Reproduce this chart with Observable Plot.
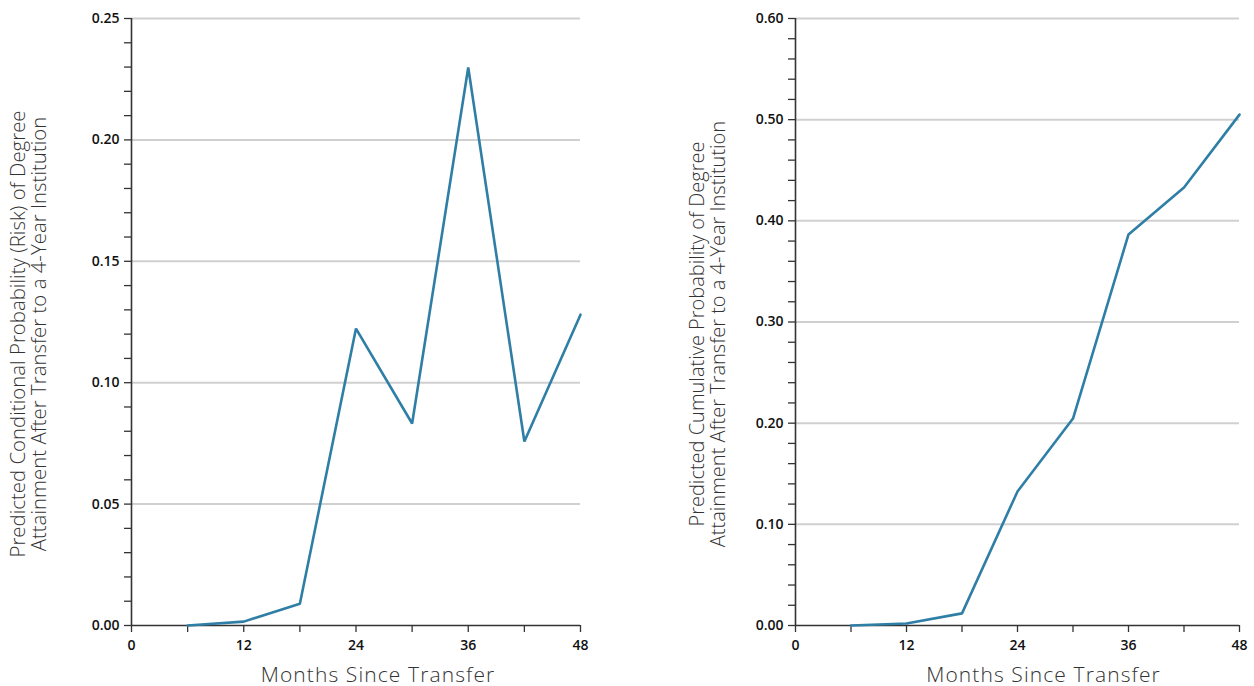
<!DOCTYPE html>
<html>
<head>
<meta charset="utf-8">
<script src="https://cdn.jsdelivr.net/npm/d3@7"></script>
<script src="https://cdn.jsdelivr.net/npm/@observablehq/plot@0.6"></script>
<style>
  html, body { margin: 0; padding: 0; background: #fff; }
  #wrap { display: flex; flex-direction: row; width: 1254px; height: 686px; }
</style>
</head>
<body>
<div id="wrap"></div>
<script>
// ---- Data ----
const months = [6, 12, 18, 24, 30, 36, 42, 48];
const conditionalRisk = [0.000, 0.0016, 0.009, 0.1223, 0.0832, 0.2298, 0.0758, 0.128];
const cumulativeProb = [0.000, 0.002, 0.012, 0.1325, 0.2046, 0.3865, 0.433, 0.505];

const xTicks = [0, 6, 12, 18, 24, 30, 36, 42, 48];
const xTickLabels = ["0", "", "12", "", "24", "", "36", "", "48"];
const leftYMajor = [0, 0.05, 0.10, 0.15, 0.20, 0.25];
const leftYLabels = ["0.00", "0.05", "0.10", "0.15", "0.20", "0.25"];
const rightYMajor = [0, 0.10, 0.20, 0.30, 0.40, 0.50, 0.60];
const rightYLabels = ["0.00", "0.10", "0.20", "0.30", "0.40", "0.50", "0.60"];

const xLabel = "Months Since Transfer";
const leftYLabel = "Predicted Conditional Probability (Risk) of Degree\nAttainment After Transfer to a 4-Year Institution";
const rightYLabel = "Predicted Cumulative Probability of Degree\nAttainment After Transfer to a 4-Year Institution";

const lineColor = "#2f7ea6";
const gridColor = "#d0d0d0";
const axisColor = "#333";
const font = "'Open Sans', 'Noto Sans', sans-serif";

function makeChart({width, marginRight, ys, yMax, yStep, yMajor, yLabels, yLabel, yLabelDx, xLabelDx, yFont}) {
  const data = months.map((m, i) => ({m, v: ys[i]}));
  const minor = d3.range(0, Math.round(yMax / yStep) + 1).map(i => +(i * yStep).toFixed(4));
  const labelMap = new Map(yMajor.map((v, i) => [v.toFixed(2), yLabels[i]]));
  const xLabelMap = new Map(xTicks.map((v, i) => [v, xTickLabels[i]]));
  const svg = Plot.plot({
    width,
    height: 686,
    marginLeft: 131,
    marginRight,
    marginTop: 18,
    marginBottom: 61,
    style: {fontFamily: font, background: "#fff", overflow: "visible"},
    x: {domain: [0, 48]},
    y: {domain: [0, yMax]},
    marks: [
      Plot.gridY(yMajor.filter(v => v > 0), {stroke: gridColor, strokeOpacity: 1, strokeWidth: 2}),
      Plot.axisY({
        ticks: minor,
        tickSize: 7,
        tickPadding: 5,
        tickFormat: d => labelMap.get(d.toFixed(2)) ?? "",
        stroke: axisColor,
        strokeWidth: 1.3,
        fontSize: 14,
        fontWeight: 600,
        fill: "#111",
        label: null
      }),
      Plot.axisX({
        ticks: xTicks,
        tickSize: 7,
        tickPadding: 8,
        tickFormat: d => xLabelMap.get(d) ?? "",
        stroke: axisColor,
        strokeWidth: 1.3,
        fontSize: 14,
        fontWeight: 600,
        fill: "#111",
        label: null
      }),
      Plot.ruleX([0], {stroke: axisColor, strokeWidth: 1.6}),
      Plot.ruleY([0], {stroke: axisColor, strokeWidth: 1.6}),
      Plot.line(data, {x: "m", y: "v", stroke: lineColor, strokeWidth: 2.6, strokeLinejoin: "miter"}),
      Plot.text([xLabel], {
        frameAnchor: "bottom", dy: 50, dx: xLabelDx, lineAnchor: "middle", textAnchor: "middle",
        fontSize: 21, fontWeight: 300, fill: "#333"
      }),
      Plot.text([yLabel], {
        frameAnchor: "left", rotate: -90, dx: yLabelDx, dy: 12, lineAnchor: "middle", textAnchor: "middle",
        lineHeight: 1.05, fontSize: yFont, fontWeight: 300, fill: "#333"
      })
    ]
  });
  d3.select(svg).selectAll("text")
    .filter(function() { return this.textContent === xLabel; })
    .attr("letter-spacing", "1.1px");
  return svg;
}

const wrap = document.getElementById("wrap");
wrap.appendChild(makeChart({
  width: 664, marginRight: 84,
  ys: conditionalRisk, yMax: 0.25, yStep: 0.01,
  yMajor: leftYMajor, yLabels: leftYLabels, yLabel: leftYLabel,
  yLabelDx: -103, xLabelDx: 22, yFont: 20.4
}));
wrap.appendChild(makeChart({
  width: 590, marginRight: 15,
  ys: cumulativeProb, yMax: 0.60, yStep: 0.02,
  yMajor: rightYMajor, yLabels: rightYLabels, yLabel: rightYLabel,
  yLabelDx: -88, xLabelDx: 26, yFont: 20
}));
</script>
</body>
</html>
